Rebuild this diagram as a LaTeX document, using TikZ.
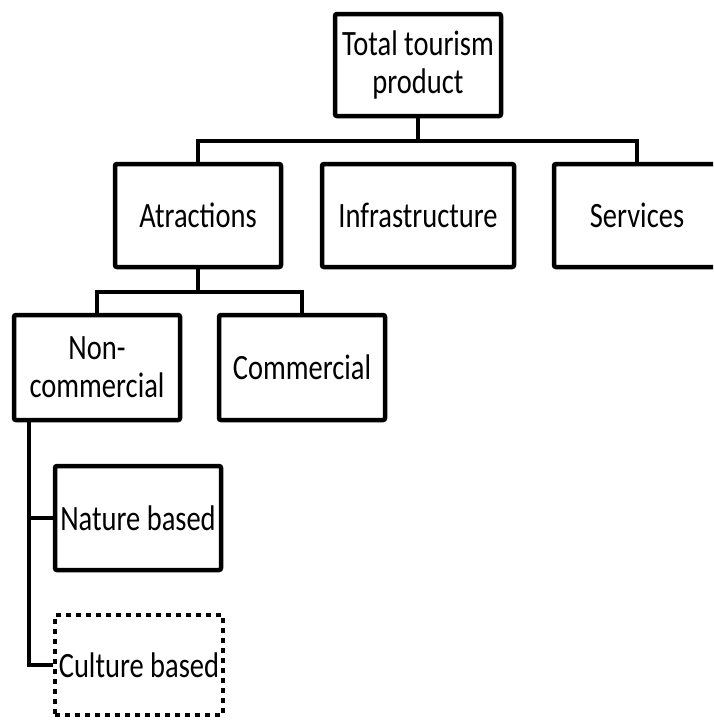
\documentclass[tikz,border=0pt]{standalone}
\usepackage{fontspec}
\usepackage{graphicx}
\setmainfont{Carlito}
\newcommand\vs[1]{\scalebox{1}[1.25]{#1}}
\begin{document}
\begin{tikzpicture}[x=1pt,y=-1pt,
  box/.style={draw, line width=4.5pt, rounded corners=2pt, minimum width=166pt, minimum height=103pt, align=center, inner sep=0pt, font=\fontsize{28.5}{38}\selectfont},
  dotbox/.style={box, line width=4.5pt, dash pattern=on 5pt off 5pt, rounded corners=0pt},
  link/.style={line width=4.5pt}]
\useasboundingbox (0,0) rectangle (713,721);
\clip (0,0) rectangle (713,721);
\node[box, minimum height=102pt] (total) at (418,65) {\vs{Total tourism}\\\vs{product}};
\node[box] (atr) at (198,215.5) {\vs{Atractions}};
\node[box, minimum width=192pt] (inf) at (418,215.5) {\vs{Infrastructure}};
\node[box] (serv) at (637,215.5) {\vs{Services}};
\node[box, minimum height=105pt] (nc) at (97,367.5) {\vs{Non-}\\\vs{commercial}};
\node[box, minimum height=105pt] (com) at (302,367.5) {\vs{Commercial}};
\node[box, minimum height=104pt] (nat) at (138,518) {\vs{Nature based}};
\node[dotbox, minimum width=168pt, minimum height=100pt] (cul) at (139,665) {\vs{Culture based}};
\coordinate (h1) at (418,141);
\coordinate (h2) at (198,292);
\coordinate (v1) at (29,420);
\draw[link] (total.south) -- (h1);
\draw[link] (atr.north) |- (h1) -| (serv.north);
\draw[link] (atr.south) -- (h2);
\draw[link] (nc.north) |- (h2) -| (com.north);
\draw[link] (v1) |- (cul.west);
\draw[link] (v1 |- nat.west) -- (nat.west);
\end{tikzpicture}
\end{document}
